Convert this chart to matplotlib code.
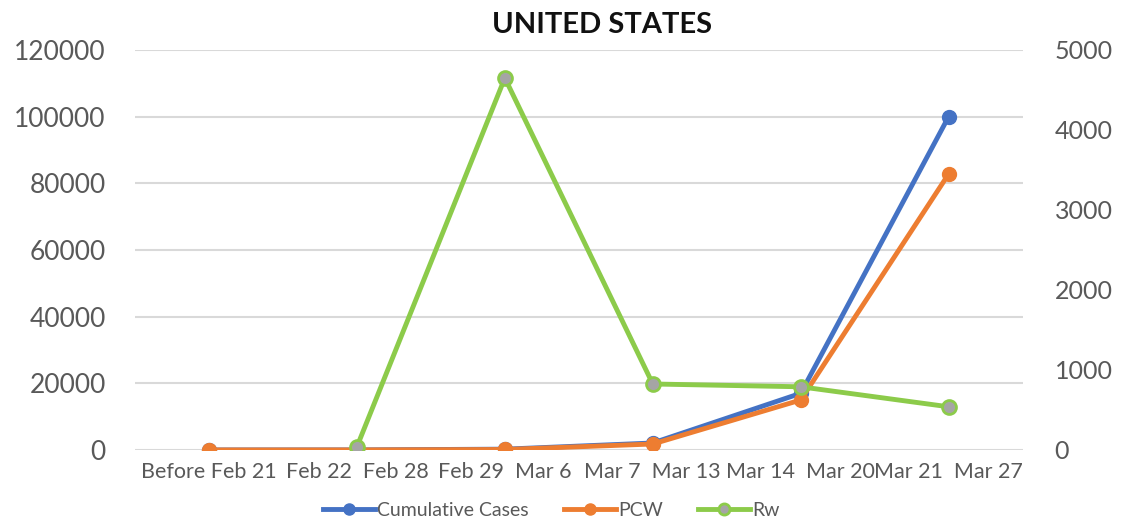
import matplotlib.pyplot as plt
import numpy as np

plt.rcParams['font.family'] = ['Lato', 'DejaVu Sans']

weeks = ['Before Feb 21', 'Feb 22  Feb 28', 'Feb 29  Mar 6',
         'Mar 7  Mar 13', 'Mar 14  Mar 20', 'Mar 21  Mar 27']
cumulative = [15, 30, 250, 2100, 17000, 100000]
pcw = [10, 20, 150, 1800, 15000, 82800]
rw = [np.nan, 40, 4650, 825, 790, 540]

blue = '#4472C4'
orange = '#ED7D31'
green = '#8CCB4A'
grey_txt = '#595959'

fig = plt.figure(figsize=(11.25, 5.26), dpi=100)
ax = fig.add_axes([0.12, 0.1445, 0.789, 0.7605])
ax2 = ax.twinx()

x = np.arange(len(weeks))
l1, = ax.plot(x, cumulative, color=blue, lw=3.5, marker='o', ms=10, label='Cumulative Cases', zorder=3)
l2, = ax.plot(x, pcw, color=orange, lw=3.5, marker='o', ms=10, label='PCW', zorder=4)
l3, = ax2.plot(x, rw, color=green, lw=3.5, marker='o', ms=10, mfc='#A5A5A5', mec=green, mew=2,
               label='Rw', zorder=5)

ax.set_xlim(-0.5, len(weeks) - 0.5)
ax.set_ylim(0, 120000)
ax2.set_ylim(0, 5000)
ax.set_yticks(np.arange(0, 120001, 20000))
ax2.set_yticks(np.arange(0, 5001, 1000))
ax.set_xticks(x)
ax.set_xticklabels(weeks)

ax.grid(axis='y', color='#D9D9D9', lw=1.5)
ax.set_axisbelow(True)
for a in (ax, ax2):
    for s in a.spines.values():
        s.set_visible(False)
ax.tick_params(axis='y', length=0, labelsize=19, labelcolor=grey_txt, pad=21)
ax2.tick_params(axis='y', length=0, labelsize=18, labelcolor=grey_txt, pad=23)
ax.tick_params(axis='x', length=0, labelsize=15.5, labelcolor=grey_txt, pad=9)

fig.suptitle('UNITED STATES', x=0.535, y=0.978, fontsize=21, fontweight='bold', color='#111111')

fig.legend(handles=[l1, l2, l3], loc='lower center', bbox_to_anchor=(0.49, -0.02), ncol=3,
           frameon=False, fontsize=14, labelcolor=grey_txt, handlelength=2.7, columnspacing=1.8,
           handletextpad=0.1, markerscale=0.8)

fig.savefig('out.png', dpi=100)
